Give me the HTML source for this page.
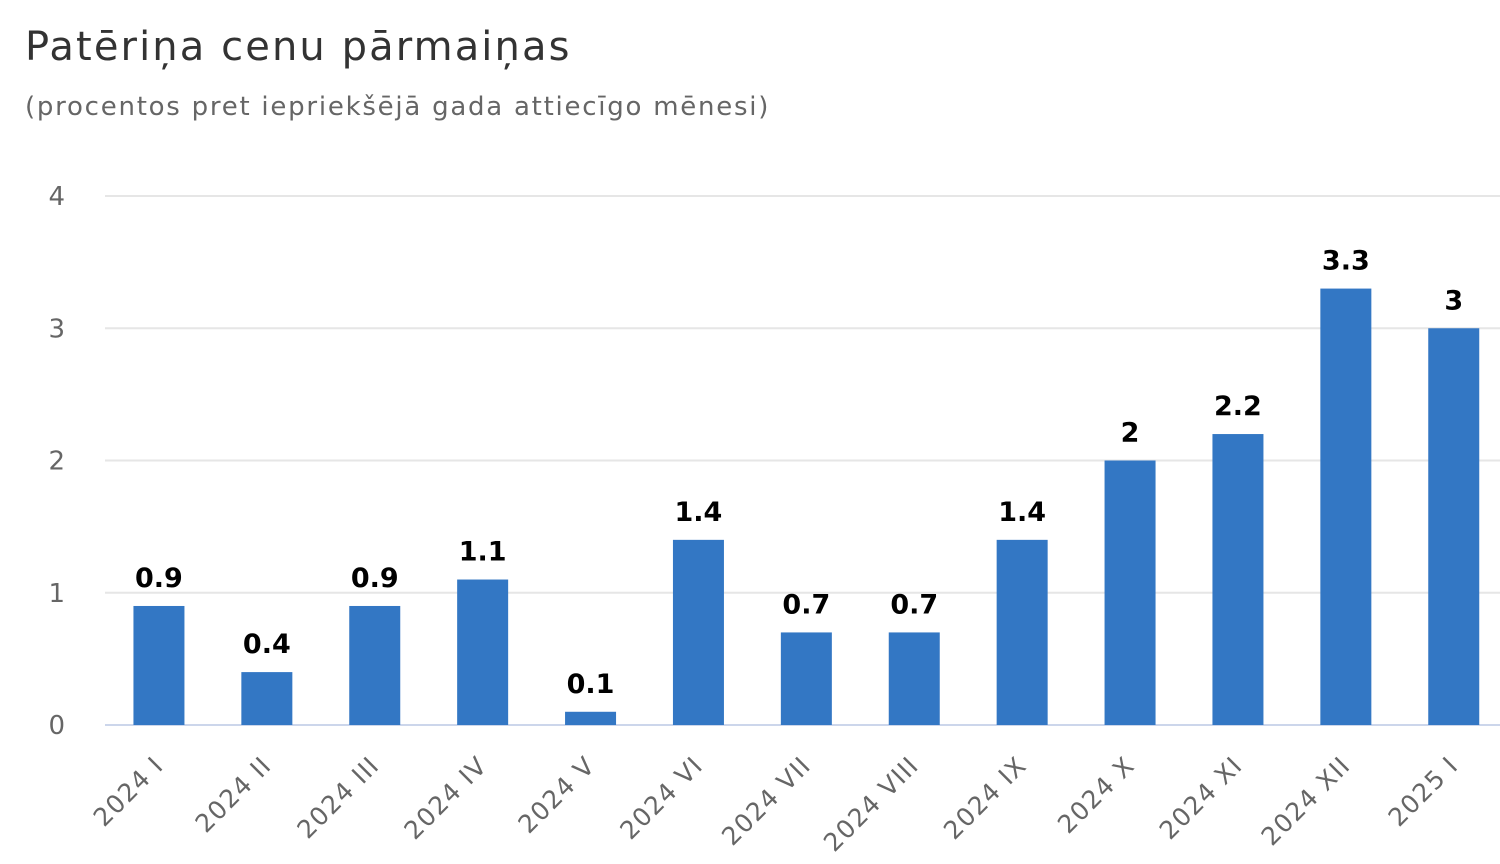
<!DOCTYPE html>
<html><head><meta charset="utf-8"><style>
body{margin:0;background:#fff;width:1500px;height:860px;overflow:hidden;font-family:"DejaVu Sans","Liberation Sans",sans-serif}
</style></head><body>
<svg id="chart" width="1500" height="860" xmlns="http://www.w3.org/2000/svg">
<text x="25" y="60" font-size="40" letter-spacing="2.1" fill="#333">Patēriņa cenu pārmaiņas</text>
<text x="25" y="115" font-size="26" letter-spacing="1.75" fill="#666">(procentos pret iepriekšējā gada attiecīgo mēnesi)</text>
<g id="grid"></g><g id="bars"></g><g id="labels"></g>
</svg>
<script>
const categories=["2024 I","2024 II","2024 III","2024 IV","2024 V","2024 VI","2024 VII","2024 VIII","2024 IX","2024 X","2024 XI","2024 XII","2025 I"];
const values=[0.9,0.4,0.9,1.1,0.1,1.4,0.7,0.7,1.4,2,2.2,3.3,3];
const yTicks=[0,1,2,3,4];
const NS="http://www.w3.org/2000/svg";
const x0=105,band=107.9,bw=51,yBase=725,yTop=196,yMax=4;
const y=v=>yBase-(yBase-yTop)*v/yMax;
const xc=i=>x0+band*(i+0.5);
function mk(t,a,p){const e=document.createElementNS(NS,t);for(const k in a)e.setAttribute(k,a[k]);p.appendChild(e);return e;}
const grid=document.getElementById('grid'),bars=document.getElementById('bars'),labels=document.getElementById('labels');
yTicks.forEach(t=>{
 const l=mk('line',{x1:x0,x2:1500,y1:y(t),y2:y(t),stroke:t===0?'#ccd6eb':'#e6e6e6','stroke-width':2},grid);
 
 
 const tx=mk('text',{x:65,y:y(t)+9,'font-size':26,fill:'#666','text-anchor':'end'},grid);
 tx.textContent=t;
 
 
});
values.forEach((v,i)=>{
 const r=mk('rect',{x:xc(i)-bw/2,y:y(v),width:bw,height:yBase-y(v),fill:'#3377c4'},bars);
 
 
 const vt=mk('text',{x:xc(i),y:y(v)-19,'font-size':27,'font-weight':'bold',fill:'#000','text-anchor':'middle'},labels);
 vt.textContent=v;
 
 
 const ct=mk('text',{x:xc(i)+6,y:yBase+42,'font-size':25,'letter-spacing':1.2,fill:'#666','text-anchor':'end',transform:`rotate(-45 ${xc(i)+6} ${yBase+42})`},labels);
 ct.textContent=categories[i];
 
 
});
</script>
</body></html>
